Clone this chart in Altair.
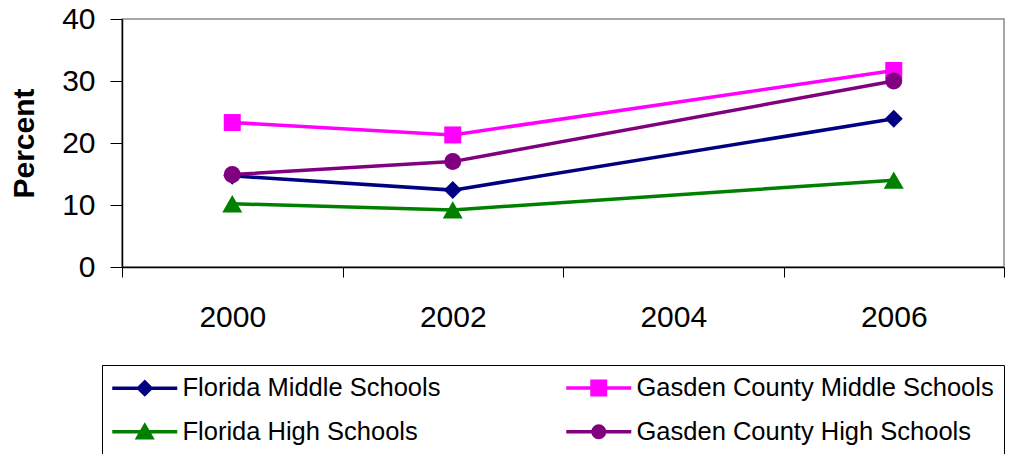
import altair as alt
import pandas as pd

# ---- data ----
series = [
    "Florida Middle Schools",
    "Gasden County Middle Schools",
    "Florida High Schools",
    "Gasden County High Schools",
]
years = [2000, 2002, 2006]
florida_middle = [14.7, 12.4, 23.9]
gasden_middle = [23.3, 21.3, 31.7]
florida_high = [10.2, 9.2, 14.0]
gasden_high = [14.9, 17.0, 30.0]
x_labels = [2000, 2002, 2004, 2006]
y_ticks = [0, 10, 20, 30, 40]

# ---- styling ----
colors = ["#000080", "#FF00FF", "#008000", "#800080"]
shapes = ["diamond", "square", "triangle-up", "circle"]
sizes = [324, 289, 400, 289]
_line = "M-1.5625,0H6.5625"
legend_paths = [
    _line + "M2.5,-0.78L3.28,0L2.5,0.78L1.72,0Z",
    _line + "M1.66,-0.84H3.34V0.84H1.66Z",
    _line + "M2.5,-0.75L3.375,0.75L1.625,0.75Z",
    _line + "M1.78,0A0.72,0.72,0,1,0,3.22,0A0.72,0.72,0,1,0,1.78,0Z",
]
font = "Liberation Sans"

rows = []
for name, vals in zip(series, [florida_middle, gasden_middle, florida_high, gasden_high]):
    for yr, v in zip(years, vals):
        rows.append({"series": name, "year": yr, "value": v})
df = pd.DataFrame(rows)

# legend is filled column by column: reorder so rows read FM | GM, FH | GH
legend_idx = [0, 2, 1, 3]
legend_order = [series[i] for i in legend_idx]
legend_colors = [colors[i] for i in legend_idx]
legend_shapes = [legend_paths[i] for i in legend_idx]

x_bounds = [x_labels[0] - 1] + [v + 1 for v in x_labels]
x_values = sorted(set(x_labels + x_bounds))

x_enc = alt.X(
    "year:Q",
    scale=alt.Scale(domain=[x_bounds[0], x_bounds[-1]], nice=False, zero=False),
    axis=alt.Axis(
        values=x_values,
        format="d",
        labelExpr="datum.value % 2 == 0 ? datum.label : ''",
        tickOpacity={"condition": {"test": "datum.value % 2 == 1", "value": 1}, "value": 0},
        tickSize=10,
        tickColor="black",
        tickWidth=1,
        domainColor="black",
        domainWidth=1.5,
        labelFont=font,
        labelFontSize=30,
        labelColor="black",
        labelPadding=25,
        labelFlush=False,
        labelOverlap=False,
        grid=False,
        title=None,
    ),
)
y_enc = alt.Y(
    "value:Q",
    scale=alt.Scale(domain=[0, 40], nice=False),
    axis=alt.Axis(
        values=y_ticks,
        grid=False,
        tickSize=12,
        tickColor="black",
        tickWidth=1,
        domainColor="black",
        domainWidth=1.5,
        labelFont=font,
        labelFontSize=30,
        labelColor="black",
        labelPadding=15,
        title="Percent",
        titleFont=font,
        titleFontSize=30,
        titleFontWeight="bold",
        titleColor="black",
        titlePadding=22,
    ),
)

color_scale = alt.Scale(domain=series, range=colors)
base = alt.Chart(df)

lines = base.mark_line(strokeWidth=3.5).encode(
    x=x_enc, y=y_enc, color=alt.Color("series:N", scale=color_scale, legend=None)
)
points = base.mark_point(filled=True, opacity=1, strokeWidth=0).encode(
    x=x_enc,
    y=y_enc,
    color=alt.Color("series:N", scale=color_scale, legend=None),
    shape=alt.Shape("series:N", scale=alt.Scale(domain=series, range=shapes), legend=None),
    size=alt.Size("series:N", scale=alt.Scale(type="ordinal", domain=series, range=sizes), legend=None),
)

legend = alt.Legend(
    orient="none",
    legendX=-20,
    legendY=346,
    columns=2,
    title=None,
    symbolSize=256,
    symbolStrokeWidth=3.5,
    symbolOpacity=1,
    labelOffset=45,
    labelFont=font,
    labelFontSize=25.5,
    labelColor="black",
    labelLimit=600,
    columnPadding=118,
    rowPadding=16,
    padding=10,
    strokeColor="black",
)
key = base.mark_point(filled=True, opacity=0).encode(
    x=x_enc,
    y=y_enc,
    fill=alt.Fill("series:N", scale=alt.Scale(domain=legend_order, range=legend_colors), legend=legend),
    stroke=alt.Stroke("series:N", scale=alt.Scale(domain=legend_order, range=legend_colors), legend=legend),
    shape=alt.Shape("series:N", scale=alt.Scale(domain=legend_order, range=legend_shapes), legend=legend),
)

chart = (
    alt.layer(lines, points, key)
    .resolve_scale(shape="independent", fill="independent", stroke="independent")
    .properties(
        width=882,
        height=248,
        autosize=alt.AutoSizeParams(type="none"),
        padding={"left": 114, "top": 11, "right": 1, "bottom": 187},
        background="white",
    )
    .configure_view(stroke="#8a8a8a", strokeWidth=1.5)
)

chart.save("out.html", embed_options={"renderer": "svg", "actions": False})
